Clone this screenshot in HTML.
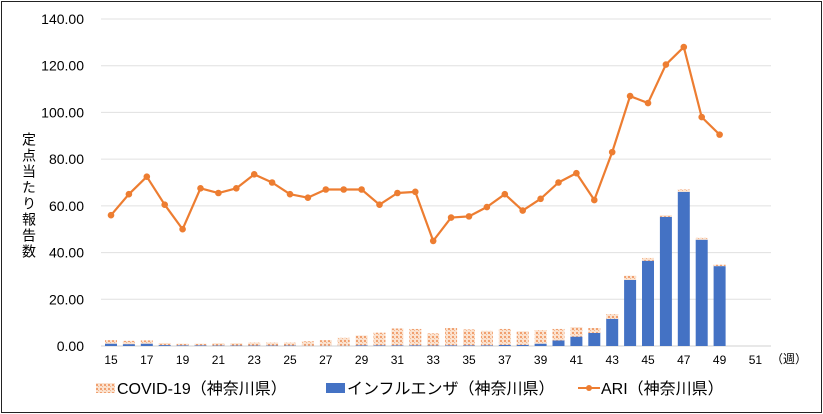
<!DOCTYPE html>
<html><head><meta charset="utf-8">
<style>
html,body{margin:0;padding:0;background:#fff;}
#wrap{position:relative;width:823px;height:414px;overflow:hidden;}
svg text{font-family:"Liberation Sans","Noto Sans CJK JP",sans-serif;}
</style></head>
<body>
<div id="wrap">
<svg id="chart" width="823" height="414" xmlns="http://www.w3.org/2000/svg">
<defs>
<pattern id="dots" width="4" height="4" patternUnits="userSpaceOnUse">
<rect width="4" height="4" fill="#fbe2cf"/>
<rect x="0" y="0" width="2" height="2" fill="#f0a070"/>
<rect x="2" y="2" width="1" height="1" fill="#f4b890"/>
</pattern>
</defs>
<rect x="1.5" y="1.5" width="820" height="411" fill="#fff" stroke="#222" stroke-width="1"/>
<g id="grid"></g>
<g id="bars"></g>
<g id="line"></g>
<g id="labels"></g>
<text x="29" y="132" font-size="14" fill="#000" style="writing-mode:vertical-rl;letter-spacing:2px" text-anchor="start">定点当たり報告数</text>
<text x="789" y="363" font-size="12" fill="#000" text-anchor="middle">（週）</text>
<g>
<g>
<rect x="96" y="383" width="19" height="10" fill="url(#dots)"/>
<text x="117" y="394" font-size="16">COVID-19（神奈川県）</text></g>
<g>
<rect x="326" y="383" width="19" height="10" fill="#4472c4"/>
<text x="347" y="394" font-size="16">インフルエンザ（神奈川県）</text></g>
<g>
<line x1="578" y1="388" x2="600" y2="388" stroke="#ed7d31" stroke-width="2"/>
<circle cx="589" cy="388" r="3" fill="#ed7d31"/>
<text x="601" y="394" font-size="16">ARI（神奈川県）</text></g>
</g>
</svg>
</div>
<script>
const weeks=[15,16,17,18,19,20,21,22,23,24,25,26,27,28,29,30,31,32,33,34,35,36,37,38,39,40,41,42,43,44,45,46,47,48,49];
const fluValues=[1,0.8,1,0.4,0.3,0.3,0.2,0.2,0.2,0.2,0.2,0.1,0.1,0.1,0.3,0.3,0.3,0.3,0.2,0.3,0.3,0.3,0.5,0.5,1,2.4,4,5.6,11.6,28.3,36.5,55.3,66,45.5,34.2];
const totalValues=[2.5,2.2,2.4,1.3,1.0,1.0,1.2,1.2,1.5,1.5,1.5,2.0,2.5,3.5,4.5,5.7,7.5,7.3,5.4,7.7,7.1,6.5,7.3,6.3,6.8,7.3,8.1,7.7,13.7,30.1,37.7,56,67,46.3,34.8];
const ariValues=[56,65,72.5,60.5,50,67.5,65.5,67.5,73.5,70,65,63.5,67,67,67,60.5,65.5,66,45,55,55.5,59.5,65,58,63,70,74,62.5,83,107,104,120.5,128,98,90.5];
const yTicks=[0,20,40,60,80,100,120,140];
const xTickLabels=[15,17,19,21,23,25,27,29,31,33,35,37,39,41,43,45,47,49,51];
const NS="http://www.w3.org/2000/svg";
const y=v=>346-v*(327/140);
const x=w=>111+(w-15)*17.9;
function mk(tag,attrs,parent){const e=document.createElementNS(NS,tag);for(const k in attrs)e.setAttribute(k,attrs[k]);document.getElementById(parent).appendChild(e);return e;}
yTicks.forEach(t=>{
  const l=mk('line',{x1:101,x2:771,y1:y(t),y2:y(t),stroke:t===0?'#d0d0d0':'#e0e0e0','stroke-width':1},'grid');
  
  
  const tx=mk('text',{x:84,y:y(t)+5,'font-size':14,'text-anchor':'end',fill:'#000'},'labels');
  tx.textContent=t.toFixed(2);
  
  
});
xTickLabels.forEach(w=>{
  const tx=mk('text',{x:x(w),y:364,'font-size':12,'text-anchor':'middle',fill:'#000'},'labels');
  tx.textContent=w;
  
  
});
weeks.forEach((w,i)=>{
  const bw=12;
  const f=fluValues[i], t=totalValues[i];
  const b=mk('rect',{x:x(w)-bw/2,y:y(f),width:bw,height:y(0)-y(f),fill:'#4472c4'},'bars');
  
  
  const c=mk('rect',{x:x(w)-bw/2,y:y(t),width:bw,height:Math.max(0,y(f)-y(t)),fill:'url(#dots)'},'bars');
  
  
});
const pts=weeks.map((w,i)=>x(w)+','+y(ariValues[i])).join(' ');
const pl=mk('polyline',{points:pts,fill:'none',stroke:'#ed7d31','stroke-width':2.2,'stroke-linejoin':'round'},'line');


weeks.forEach((w,i)=>{
  const p=mk('circle',{cx:x(w),cy:y(ariValues[i]),r:3.3,fill:'#ed7d31'},'line');
  
  
});
</script>
</body></html>
